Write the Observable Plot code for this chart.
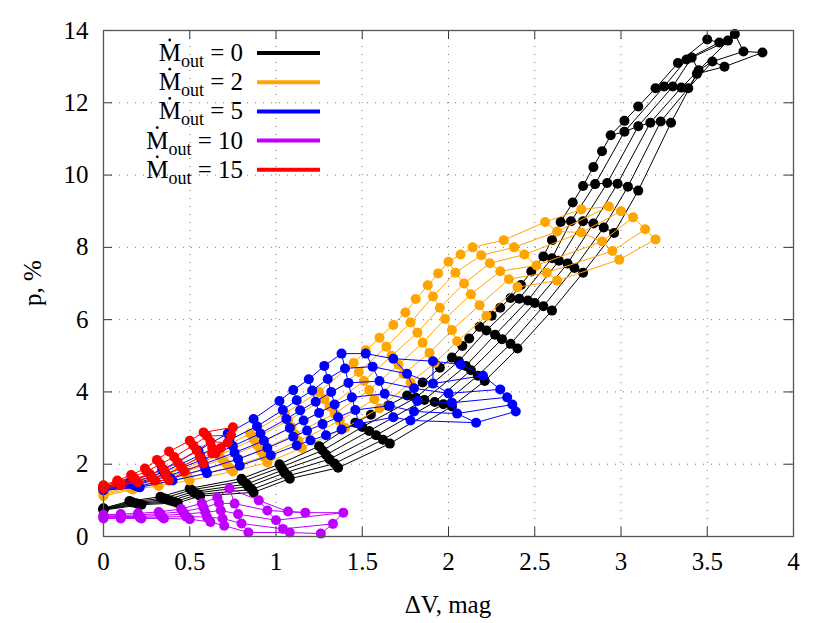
<!DOCTYPE html>
<html><head><meta charset="utf-8">
<script src="https://cdn.jsdelivr.net/npm/d3@7"></script>
<script src="https://cdn.jsdelivr.net/npm/@observablehq/plot@0.6"></script>
<style>body{margin:0;background:#fff} #chart{width:830px;height:623px} #chart svg text{font-family: Liberation Serif, Times New Roman, serif;}</style>
</head><body><div id="chart"></div>
<script>
const xTicks = [0,0.5,1,1.5,2,2.5,3,3.5,4];
const xTickLabels = ["0","0.5","1","1.5","2","2.5","3","3.5","4"];
const yTicks = [0,2,4,6,8,10,12,14];
const famLabels = ["0","2","5","10","15"];
const famColors = ["#000000","#ffa500","#0000ff","#c000ff","#ff0000"];

// Each inner array = one mesh column, values listed from top curve to bottom curve
const blackX = [
 [0,0,0,0,0,0],[0.15,0.16,0.17,0.19,0.2,0.22],[0.33,0.35,0.37,0.39,0.41,0.43],
 [0.5,0.51,0.52,0.53,0.55,0.56],[0.8,0.81,0.83,0.84,0.86,0.87],[1.02,1.03,1.04,1.05,1.07,1.08],
 [1.25,1.27,1.29,1.31,1.34,1.36],[1.46,1.5,1.54,1.58,1.62,1.66],[1.76,1.81,1.86,1.92,1.97,2.02],
 [2.02,2.06,2.1,2.13,2.17,2.21],[2.18,2.22,2.27,2.31,2.36,2.4],[2.36,2.41,2.46,2.5,2.55,2.6],
 [2.55,2.6,2.64,2.69,2.73,2.78],[2.65,2.71,2.78,2.84,2.9,2.96],[2.78,2.85,2.92,2.98,3.04,3.1],
 [2.94,3.02,3.1,3.17,3.23,3.29],[3.2,3.25,3.3,3.35,3.39,3.44],[3.33,3.38,3.41,3.45,3.53,3.6],
 [3.5,3.57,3.62,3.66,3.71,3.82]];
const blackY = [
 [0.78,0.77,0.76,0.75,0.74,0.73],[0.98,0.96,0.94,0.92,0.9,0.88],[1.1,1.06,1.02,0.99,0.96,0.93],
 [1.33,1.29,1.24,1.2,1.16,1.12],[1.6,1.53,1.45,1.38,1.3,1.22],[2.0,1.92,1.84,1.76,1.68,1.6],
 [2.5,2.38,2.26,2.14,2.02,1.9],[3.15,3.03,2.92,2.8,2.68,2.57],[3.9,3.84,3.78,3.72,3.66,3.6],
 [4.95,4.85,4.72,4.6,4.45,4.3],[5.8,5.7,5.58,5.46,5.33,5.2],[6.6,6.58,6.53,6.46,6.37,6.25],
 [7.75,7.7,7.63,7.55,7.43,7.3],[8.7,8.72,8.72,8.66,8.55,8.4],[9.7,9.75,9.78,9.76,9.68,9.57],
 [11.1,11.2,11.35,11.45,11.48,11.45],[12.4,12.45,12.45,12.42,12.4,12.8],[13.1,13.2,13.25,12.9,13.14,13.0],
 [13.75,13.67,13.72,13.9,13.42,13.39]];
const blackBandX = [1.55,1.65,1.85,1.95,2.08,2.12,2.25,2.3,2.42,2.48,2.6,2.72,2.84,2.89,3.02,3.1];
const blackBandY = [3.37,3.62,4.26,4.67,5.27,5.48,6.11,6.33,6.96,7.33,8.2,9.24,10.22,10.66,11.5,11.9];

const orangeX = [
 [0,0,0,0,0,0],[0.12,0.13,0.14,0.15,0.16,0.17],[0.28,0.29,0.3,0.3,0.31,0.32],
 [0.45,0.46,0.47,0.48,0.49,0.5],[0.65,0.67,0.69,0.71,0.73,0.75],[0.85,0.87,0.89,0.91,0.93,0.95],
 [1.05,1.07,1.09,1.11,1.13,1.15],[1.25,1.28,1.31,1.34,1.37,1.4],[1.45,1.48,1.51,1.54,1.57,1.6],
 [1.6,1.64,1.67,1.71,1.74,1.78],[1.75,1.78,1.82,1.85,1.89,1.92],[1.88,1.91,1.95,1.98,2.02,2.05],
 [2.0,2.04,2.09,2.13,2.18,2.22],[2.14,2.19,2.24,2.3,2.35,2.4],[2.32,2.38,2.44,2.51,2.57,2.63],
 [2.56,2.63,2.77,2.89,2.95,2.99],[2.77,2.93,3.0,3.07,3.14,3.2]];
const orangeY = [
 [1.3,1.27,1.23,1.2,1.16,1.12],[1.45,1.42,1.39,1.36,1.33,1.3],[1.65,1.6,1.55,1.5,1.45,1.4],
 [1.95,1.87,1.79,1.71,1.63,1.55],[2.35,2.24,2.13,2.02,1.91,1.8],[2.85,2.69,2.53,2.37,2.21,2.05],
 [3.4,3.21,3.02,2.83,2.64,2.45],[4.0,3.8,3.6,3.4,3.2,3.0],[4.8,4.55,4.3,4.05,3.8,3.55],
 [5.5,5.25,5.0,4.75,4.5,4.26],[6.2,5.92,5.64,5.36,5.08,4.8],[6.95,6.64,6.33,6.02,5.71,5.4],
 [7.6,7.3,7.0,6.7,6.4,6.1],[8.0,7.78,7.56,7.34,7.12,6.9],[8.2,8.0,7.8,7.5,7.3,7.08],
 [8.7,8.44,8.41,8.16,7.9,7.66],[9.05,9.13,9.0,8.83,8.5,8.22]];
const orangeBandX = [1.52,1.68,1.81,1.94,2.07];
const orangeBandY = [5.15,5.85,6.57,7.28,7.8];

const blueX = [
 [0,0,0,0,0,0],[0.15,0.16,0.17,0.18,0.2,0.21],[0.34,0.35,0.36,0.37,0.39,0.4],
 [0.55,0.56,0.57,0.58,0.59,0.6],[0.72,0.73,0.75,0.76,0.78,0.79],[0.87,0.89,0.91,0.93,0.95,0.97],
 [1.02,1.04,1.06,1.08,1.1,1.12],[1.1,1.12,1.14,1.16,1.18,1.2],[1.19,1.21,1.23,1.25,1.27,1.29],
 [1.28,1.3,1.32,1.34,1.36,1.38],[1.38,1.4,1.42,1.44,1.46,1.48],[1.52,1.56,1.6,1.63,1.66,1.68],
 [1.68,1.76,1.8,1.82,1.8,1.78],[1.91,1.91,2.0,2.02,2.05,2.16],[2.07,2.2,2.3,2.34,2.37,2.39]];
const blueY = [
 [1.38,1.36,1.34,1.32,1.3,1.28],[1.5,1.47,1.44,1.41,1.38,1.36],[1.85,1.79,1.73,1.67,1.61,1.55],
 [2.38,2.25,2.12,2.0,1.87,1.75],[2.85,2.67,2.5,2.32,2.14,1.96],[3.25,3.05,2.85,2.65,2.45,2.25],
 [3.75,3.5,3.25,3.0,2.76,2.52],[4.05,3.77,3.49,3.21,2.93,2.66],[4.35,4.04,3.73,3.42,3.11,2.8],
 [4.72,4.36,4.0,3.65,3.3,2.96],[5.06,4.65,4.25,3.85,3.5,3.12],[5.06,4.7,4.3,3.95,3.62,3.3],
 [4.92,4.5,4.1,3.75,3.46,3.21],[4.85,4.23,3.96,3.7,3.4,3.15],[4.76,4.45,4.07,3.85,3.65,3.46]];

const purpleX = [
 [0,0,0,0,0],[0.1,0.1,0.1,0.1,0.1],[0.2,0.2,0.21,0.21,0.22],[0.32,0.33,0.33,0.34,0.35],
 [0.45,0.46,0.47,0.48,0.5],[0.57,0.58,0.59,0.6,0.62],[0.66,0.67,0.68,0.69,0.7],
 [0.73,0.76,0.78,0.8,0.84],[0.9,0.95,1.0,1.04,1.08],[1.07,1.17,1.39,1.33,1.26]];
const purpleY = [
 [0.6,0.57,0.55,0.52,0.5],[0.62,0.58,0.55,0.52,0.5],[0.64,0.6,0.56,0.53,0.5],[0.68,0.63,0.58,0.54,0.5],
 [0.76,0.69,0.62,0.55,0.48],[0.92,0.8,0.67,0.54,0.4],[1.08,0.92,0.72,0.5,0.3],
 [1.33,0.91,0.62,0.36,0.11],[1.0,0.72,0.45,0.21,0.11],[0.69,0.66,0.66,0.35,0.08]];

const redX = [
 [0,0,0,0,0],[0.08,0.08,0.09,0.1,0.1],[0.16,0.17,0.18,0.19,0.2],[0.24,0.25,0.27,0.28,0.3],
 [0.31,0.33,0.35,0.36,0.38],[0.38,0.41,0.43,0.45,0.47],[0.5,0.52,0.54,0.56,0.58],
 [0.58,0.6,0.62,0.63,0.63],[0.75,0.74,0.72,0.68,0.65]];
const redY = [
 [1.42,1.4,1.38,1.35,1.33],[1.55,1.51,1.48,1.45,1.42],[1.7,1.65,1.6,1.55,1.5],[1.88,1.8,1.72,1.63,1.55],
 [2.12,2.0,1.85,1.7,1.55],[2.35,2.2,2.05,1.92,1.8],[2.65,2.52,2.38,2.2,2.02],
 [2.88,2.78,2.62,2.45,2.3],[3.02,2.8,2.6,2.45,2.3]];

function mesh(X, Y) {
  const out = [];
  X.forEach((col, j) => col.forEach((x, k) => out.push({col: j, curve: k, x, y: Y[j][k]})));
  return out;
}
function band(X, Y) { return X.map((x, i) => ({x, y: Y[i]})); }

const fams = [
  {pts: mesh(blackX, blackY), extra: band(blackBandX, blackBandY)},
  {pts: mesh(orangeX, orangeY), extra: band(orangeBandX, orangeBandY)},
  {pts: mesh(blueX, blueY), extra: []},
  {pts: mesh(purpleX, purpleY), extra: []},
  {pts: mesh(redX, redY), extra: []}
];

const FONT = "Liberation Serif, Times New Roman, serif";
const FS = 25;
const tk = 9; // tick length in px
const marks = [
  Plot.gridX(xTicks, {stroke: "#777", strokeOpacity: 1, strokeDasharray: "1,7"}),
  Plot.gridY(yTicks, {stroke: "#777", strokeOpacity: 1, strokeDasharray: "1,7"})
];
fams.forEach((f, i) => {
  const c = famColors[i];
  marks.push(Plot.line(f.pts, {x: "x", y: "y", z: "curve", stroke: c, strokeWidth: 1}));
  marks.push(Plot.line(f.pts, {x: "x", y: "y", z: "col", stroke: c, strokeWidth: 1}));
  marks.push(Plot.dot(f.pts, {x: "x", y: "y", r: 5, fill: c, stroke: "none"}));
  if (f.extra.length) marks.push(Plot.dot(f.extra, {x: "x", y: "y", r: 5, fill: c, stroke: "none"}));
});
marks.push(
  Plot.ruleX(xTicks, {x: d => d, y1: 0, y2: tk / 36.14, stroke: "#333"}),
  Plot.ruleX(xTicks, {x: d => d, y1: 14 - tk / 36.14, y2: 14, stroke: "#333"}),
  Plot.ruleY(yTicks, {y: d => d, x1: 0, x2: tk / 172.5, stroke: "#333"}),
  Plot.ruleY(yTicks, {y: d => d, x1: 4 - tk / 172.5, x2: 4, stroke: "#333"}),
  Plot.frame({stroke: "#555", strokeWidth: 1.3}),
  Plot.axisX(xTicks, {tickSize: 0, tickPadding: 16, fontSize: FS, fontFamily: FONT, label: null,
    tickFormat: d => xTickLabels[xTicks.indexOf(d)]}),
  Plot.axisY(yTicks, {tickSize: 0, tickPadding: 15, fontSize: FS, fontFamily: FONT, label: null})
);

const chart = Plot.plot({
  width: 830, height: 623,
  marginLeft: 103, marginRight: 37, marginTop: 30, marginBottom: 87,
  x: {domain: [0, 4]},
  y: {domain: [0, 14]},
  style: {fontFamily: FONT, fontSize: FS + "px", background: "white", color: "black"},
  marks
});
document.getElementById("chart").appendChild(chart);

const svg = d3.select(chart);
svg.append("text").attr("x", 448).attr("y", 613).attr("text-anchor", "middle")
  .attr("font-family", FONT).attr("font-size", FS).attr("fill", "black").text("ΔV, mag");
svg.append("text").attr("transform", "translate(41,283) rotate(-90)").attr("text-anchor", "middle")
  .attr("font-family", FONT).attr("font-size", FS).attr("fill", "black").text("p, %");

const lg = svg.append("g");
famLabels.forEach((lab, i) => {
  const ly = 53 + i * 29.2;
  const t = lg.append("text").attr("x", 243).attr("y", ly + 8).attr("text-anchor", "end")
    .attr("font-family", FONT).attr("font-size", FS).attr("fill", "black");
  t.append("tspan").text("M");
  t.append("tspan").attr("font-size", 18).attr("dy", 6).text("out");
  t.append("tspan").attr("dy", -6).text(" = " + lab);
  const node = t.node();
  try {
    const s = node.getStartPositionOfChar(0), e = node.getEndPositionOfChar(0);
    lg.append("circle").attr("cx", (s.x + e.x) / 2).attr("cy", ly + 8 - 21).attr("r", 1.4).attr("fill", "black");
  } catch (err) {}
  lg.append("line").attr("x1", 257).attr("x2", 320).attr("y1", ly).attr("y2", ly)
    .attr("stroke", famColors[i]).attr("stroke-width", 4);
});
</script>
</body></html>
